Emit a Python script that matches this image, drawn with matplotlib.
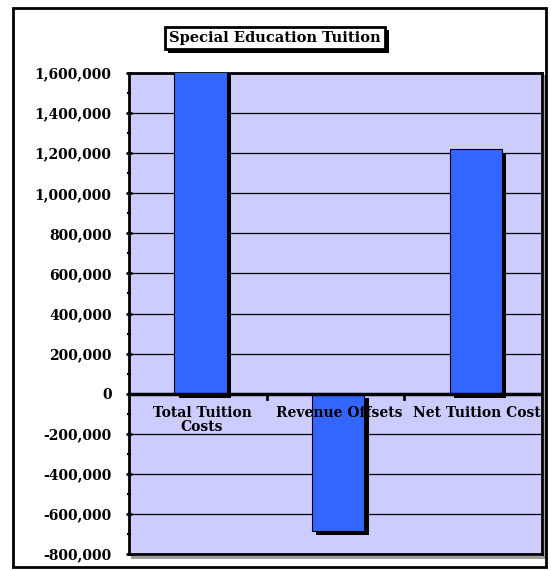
import matplotlib.pyplot as plt
import matplotlib.patches as mpatches
import matplotlib.patheffects as pe
from matplotlib.ticker import FuncFormatter, MultipleLocator
import numpy as np

categories = ["Total Tuition\nCosts", "Revenue Offsets", "Net Tuition Cost"]
values = [1904000, -683000, 1221000]
title = "Special Education Tuition"

W, H = 551, 571
fig = plt.figure(figsize=(W / 100, H / 100), dpi=100)
font = "DejaVu Serif"

# outer chart border
fig.patches.append(mpatches.Rectangle((13 / W, 1 - 567 / H), 533 / W, 559 / H,
                                      transform=fig.transFigure, fill=False,
                                      edgecolor="black", linewidth=2))

# gray shadow behind the plot frame (only right/bottom edges show)
fig.patches.append(mpatches.Rectangle((132 / W, 1 - 557 / H), 413 / W, 481 / H,
                                      transform=fig.transFigure, fill=False,
                                      edgecolor="#999999", linewidth=2, zorder=-1))

ax = fig.add_axes([129 / W, 1 - 554 / H, 413 / W, 481 / H])
ax.set_facecolor("#CCCCFF")
x = np.arange(len(categories))
bw = 0.38

shadow = [pe.SimplePatchShadow(offset=(3, -3), shadow_rgbFace="black", alpha=1), pe.Normal()]
bars = ax.bar(x + 0.02, values, width=bw, color="#3366FF", edgecolor="black", linewidth=0.8, zorder=3)
for b in bars:
    b.set_path_effects(shadow)

ax.set_ylim(-800000, 1600000)
ax.set_xlim(-0.5, 2.5)
ax.yaxis.set_major_locator(MultipleLocator(200000))
ax.yaxis.set_minor_locator(MultipleLocator(100000))
ax.yaxis.set_major_formatter(FuncFormatter(lambda v, p: f"{v:,.0f}"))
ax.grid(axis="y", color="black", linewidth=0.9, zorder=1)
ax.set_axisbelow(True)
for s in ax.spines.values():
    s.set_linewidth(2)
ax.tick_params(axis="y", which="major", length=5, width=2, direction="inout", pad=10)
ax.tick_params(axis="y", which="minor", length=3, width=1.5, direction="inout")
for lb in ax.get_yticklabels():
    lb.set_fontfamily(font)
    lb.set_fontweight("bold")
    lb.set_fontsize(10)

# x axis at zero
ax.set_xticks([])
ax.axhline(0, color="black", linewidth=2.5, zorder=4)
for b in [0.5, 1.5]:
    ax.plot([b, b], [0, -25000], color="black", linewidth=2, zorder=4)
for i, c in enumerate(categories):
    ax.text(i + 0.03, -62000, c, ha="center", va="top", fontsize=10, fontfamily=font,
            fontweight="bold", linespacing=1.0, zorder=5)

fig.text(275 / W, 1 - 38 / H, title, ha="center", va="center", fontsize=10.5,
         fontfamily=font, fontweight="bold",
         bbox=dict(boxstyle="square,pad=0.3", facecolor="white", edgecolor="black", linewidth=2,
                   path_effects=[pe.SimplePatchShadow(offset=(2.5, -2.5), shadow_rgbFace="black", alpha=1),
                                 pe.Normal()]))

fig.savefig("out.png", dpi=100)
